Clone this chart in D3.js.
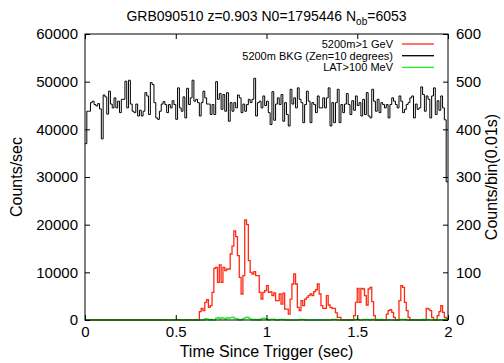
<!DOCTYPE html>
<html>
<head>
<meta charset="utf-8">
<script src="https://cdn.jsdelivr.net/npm/d3@7"></script>
<style>
	body { margin: 0; background: #fff; }
	text { font-family: "Liberation Sans", Arial, sans-serif; fill: #000; }
</style>
</head>
<body>
<div id="chart"></div>
<script>
// bin width 0.01 s, 200 bins from 0 to 2 s
var binWidth = 0.01;

// 5200m>1 GeV (counts/sec)
var redCounts = [
	0,0,0,0,0,0,0,0,0,0,0,0,0,0,0,0,0,0,0,0,
	0,0,0,0,0,0,0,0,0,0,0,0,0,0,0,0,0,0,0,0,
	0,0,0,0,0,0,0,0,0,0,0,0,0,0,0,0,0,0,0,0,
	0,0,0,1750,2450,1950,3700,4250,2650,3000,5800,10850,11050,7900,11550,7900,11050,10350,10700,10700,
	13850,15500,18700,17500,13500,8950,5450,9300,21000,20000,12450,10000,9650,10150,9300,9300,5800,4400,5800,6150,
	7200,5800,5900,5100,5700,4050,4050,5450,3350,5650,2300,2300,1250,4400,7550,9650,7550,2650,1950,4050,
	3000,4400,4750,5100,5450,5100,5950,6350,7550,5450,3000,2450,2450,5100,3150,2650,2450,2450,1500,550,
	550,0,0,0,0,0,0,0,900,3700,6650,3700,6650,6500,5100,3150,6500,6850,3850,900,
	0,0,0,0,0,0,1250,1950,2150,1600,550,0,0,4050,7200,6850,3700,1950,550,0,
	0,0,0,0,0,0,0,0,2450,2300,1950,550,0,0,900,1750,3000,1600,550,300
];

// 5200m BKG (Zen=10 degrees) (counts/bin)
var bkgCounts = [
	370,438,438,456,459,452,449,454,443,380,472,468,432,480,453,445,466,445,459,435,
	463,463,501,445,503,453,438,435,453,428,440,428,438,477,470,431,498,494,456,424,
	421,438,453,458,452,435,452,445,460,452,421,487,445,438,468,424,486,452,466,503,
	459,463,456,428,456,480,466,453,453,431,452,431,500,463,475,442,473,438,477,417,
	456,438,456,445,472,466,435,453,438,452,463,456,463,507,428,456,459,445,470,450,
	459,435,410,479,419,453,466,452,473,417,456,431,407,484,453,466,445,487,463,456,
	414,452,480,459,414,456,452,435,470,445,445,466,445,466,487,407,456,414,456,484,
	414,452,435,453,475,452,431,460,440,470,450,456,428,463,431,477,428,424,484,459,
	438,463,435,456,452,445,452,424,452,466,459,452,445,470,459,435,442,452,456,466,
	470,424,453,442,445,489,473,438,470,463,424,470,487,431,460,440,470,445,420,290
];

// LAT>100 MeV (counts/sec)
var latCounts = [
	0,0,0,0,0,0,0,0,0,0,0,0,0,0,0,0,0,0,0,0,
	0,0,0,0,0,0,0,0,0,0,0,0,0,0,0,0,0,0,0,0,
	0,0,0,0,0,0,0,0,0,0,0,0,0,0,0,0,0,0,0,0,
	0,0,0,0,0,0,300,200,0,100,0,0,400,500,300,500,400,200,500,400,
	500,600,400,300,100,0,100,300,500,600,400,200,0,100,0,100,0,300,400,300,
	100,0,200,200,100,0,0,100,100,100,0,0,0,0,0,0,0,0,100,100,
	100,0,0,0,0,0,0,0,0,0,0,0,0,0,0,0,100,100,100,0,
	0,0,0,0,0,0,0,0,100,100,100,0,0,100,100,100,0,0,100,100,
	100,0,100,100,0,0,0,0,0,0,0,0,0,100,100,100,100,0,0,0,
	0,0,0,0,0,0,100,100,100,0,0,0,100,100,0,0,0,100,100,100
];

var seriesNames = ['5200m>1 GeV', '5200m BKG (Zen=10 degrees)', 'LAT>100 MeV'];
var seriesColors = ['#ff2a14', '#000000', '#22ee22'];

var xTicks = [0, 0.5, 1, 1.5, 2];
var yTicks = [0, 10000, 20000, 30000, 40000, 50000, 60000];
var y2Ticks = [0, 100, 200, 300, 400, 500, 600];

//------------------------------------------------------------------------------
var W = 504, H = 363;
var margin = {t: 34, r: 56, b: 43, l: 85},
	pw = W - margin.l - margin.r,
	ph = H - margin.t - margin.b;

var svg = d3.select('#chart')
	.append('svg')
	.attr('width', W)
	.attr('height', H);

var g = svg.append('g')
	.attr('transform', 'translate(' + margin.l + ',' + margin.t + ')');

var x = d3.scaleLinear().domain([0, 2]).range([0, pw]);
var y = d3.scaleLinear().domain([0, 60000]).range([ph, 0]);
var y2 = d3.scaleLinear().domain([0, 600]).range([ph, 0]);

// turn a bin array into step points, closing the last bin at its right edge
function steps(arr) {
	var pts = arr.map(function(v, i) { return [i * binWidth, v]; });
	pts.push([arr.length * binWidth, arr[arr.length - 1]]);
	return pts;
}

var lineY = d3.line()
	.curve(d3.curveStepAfter)
	.x(function(d) { return x(d[0]); })
	.y(function(d) { return y(d[1]); });

var lineY2 = d3.line()
	.curve(d3.curveStepAfter)
	.x(function(d) { return x(d[0]); })
	.y(function(d) { return y2(d[1]); });

g.append('path')
	.attr('d', lineY(steps(redCounts)))
	.attr('fill', 'none')
	.attr('stroke', seriesColors[0])
	.attr('stroke-width', 1.3);

g.append('path')
	.attr('d', lineY2(steps(bkgCounts)))
	.attr('fill', 'none')
	.attr('stroke', seriesColors[1])
	.attr('stroke-width', 1);

g.append('path')
	.attr('d', lineY(steps(latCounts)))
	.attr('fill', 'none')
	.attr('stroke', seriesColors[2])
	.attr('stroke-width', 1.3);

// axes, ticks pointing inward
var fmt = function(d) { return d3.format('d')(d); };

var ax = g.append('g')
	.attr('transform', 'translate(0,' + ph + ')')
	.call(d3.axisBottom(x).tickValues(xTicks).tickSize(-5).tickPadding(6)
		.tickFormat(function(d) { return String(d); }));
g.append('g')
	.call(d3.axisTop(x).tickValues(xTicks).tickSize(-5).tickFormat(''));
var al = g.append('g')
	.call(d3.axisLeft(y).tickValues(yTicks).tickSize(-5).tickPadding(7).tickFormat(fmt));
var ar = g.append('g')
	.attr('transform', 'translate(' + pw + ',0)')
	.call(d3.axisRight(y2).tickValues(y2Ticks).tickSize(-5).tickPadding(8).tickFormat(fmt));

[ax, al, ar].forEach(function(a) {
	a.selectAll('text').style('font-size', '15px').attr('fill', '#000');
});
g.selectAll('.domain').remove();
g.selectAll('.tick line').attr('stroke', '#000');

// border on top of the data
g.append('rect')
	.attr('x', 0).attr('y', 0)
	.attr('width', pw).attr('height', ph)
	.attr('fill', 'none')
	.attr('stroke', '#000')
	.attr('stroke-width', 1);

// legend
var legend = g.append('g')
	.attr('transform', 'translate(' + (pw - 55) + ',10)');
seriesNames.forEach(function(name, i) {
	var ly = i * 11.7;
	legend.append('text')
		.attr('x', 0)
		.attr('y', ly)
		.attr('dy', '0.35em')
		.style('text-anchor', 'end')
		.style('font-size', '11px')
		.text(name);
	legend.append('line')
		.attr('x1', 9).attr('x2', 41)
		.attr('y1', ly).attr('y2', ly)
		.attr('stroke', seriesColors[i])
		.attr('stroke-width', 1.3);
});

// title
var title = svg.append('text')
	.attr('x', margin.l + pw / 2)
	.attr('y', 21)
	.style('text-anchor', 'middle')
	.style('font-size', '14px');
title.append('tspan').text('GRB090510 z=0.903 N0=1795446 N');
title.append('tspan').attr('dy', 4).style('font-size', '10px').text('ob');
title.append('tspan').attr('dy', -4).text('=6053');

// axis labels
svg.append('text')
	.attr('x', margin.l + pw / 2)
	.attr('y', 357)
	.style('text-anchor', 'middle')
	.style('font-size', '16px')
	.text('Time Since Trigger (sec)');

svg.append('text')
	.attr('transform', 'translate(22,' + (margin.t + ph / 2) + ')rotate(-90)')
	.style('text-anchor', 'middle')
	.style('font-size', '16px')
	.text('Counts/sec');

svg.append('text')
	.attr('transform', 'translate(497,' + (margin.t + ph / 2) + ')rotate(-90)')
	.style('text-anchor', 'middle')
	.style('font-size', '16px')
	.text('Counts/bin(0.01s)');
</script>
</body>
</html>
